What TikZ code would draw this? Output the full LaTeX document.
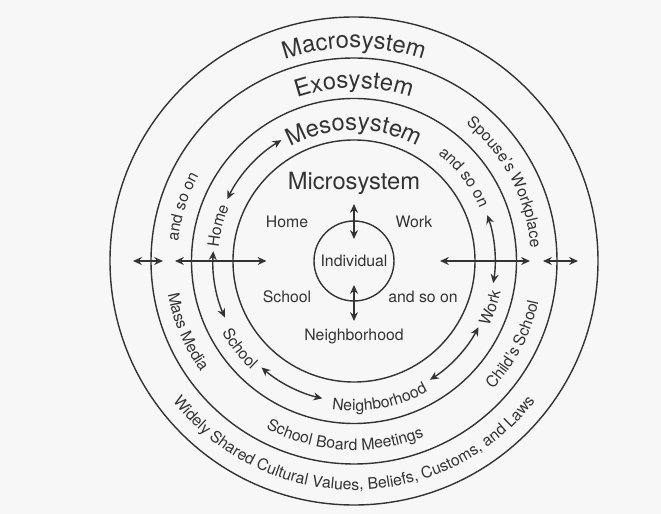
\documentclass[tikz,border=0pt]{standalone}
\usepackage{fontspec}
\setmainfont{TeX Gyre Heros}
\usetikzlibrary{arrows.meta, decorations.text}

\newcommand{\ringfont}{\fontsize{9}{11}\selectfont}
\newcommand{\sysfont}{\fontsize{13.5}{16}\selectfont}

\tikzset{
  link/.style={>={Stealth[length=5pt,width=4.5pt]}, <->},
  inner/.style={font=\ringfont},
  ringtext/.style={decorate, decoration={text along path, text align=center,
    text color=black!80, text={|\ringfont|#1}}},
  systext/.style={decorate, decoration={text along path, text align=center,
    text color=black!80, text={|\sysfont|#1}}}
}

\begin{document}
\begin{tikzpicture}[thick, line cap=round, line join=round, color=black!80]
% Page
\fill[black!3] (-7.08,-5.06) rectangle (6.14,5.22);

% Rings
\node[draw, circle, minimum size=1.6cm, inner sep=0pt, font=\ringfont] (ind) at (0,0) {Individual};
\draw (0,0) circle (2.42);
\draw (0,0) circle (3.25);
\draw (0,0) circle (4.06);
\draw (0,0) circle (4.88);

% Microsystem
\node[font=\sysfont] (micro) at (0,1.55) {Microsystem};
\node[inner] (home) at (-1.34,0.78) {Home};
\node[inner] (work) at (1.2,0.78) {Work};
\node[inner] (school) at (-1.34,-0.72) {School};
\node[inner] (more) at (1.38,-0.72) {and so on};
\node[inner] (nbhd) at (0,-1.5) {Neighborhood};

\coordinate (up1) at (0,1.14);
\coordinate (up2) at (0,0.44);
\coordinate (dn1) at (0,-0.48);
\coordinate (dn2) at (0,-1.2);
\draw[link] (up1) -- (up2);
\draw[link] (dn1) -- (dn2);

% Cross arrows
\coordinate (wa) at (-4.42,0);
\coordinate (wb) at (-3.82,0);
\coordinate (wc) at (-3.58,0);
\coordinate (wd) at (-1.75,0);
\coordinate (ea) at (1.72,0);
\coordinate (eb) at (3.52,0);
\coordinate (ec) at (3.78,0);
\coordinate (ed) at (4.48,0);
\draw[link] (wa) -- (wb);
\draw[link] (wc) -- (wd);
\draw[link] (ea) -- (eb);
\draw[link] (ec) -- (ed);

% Mesosystem
\path[systext={Mesosystem}] (150:2.62) arc (150:30:2.62);
\path[ringtext={Home}] (205.5:2.72) arc (205.5:125.5:2.72);
\path[ringtext={and so on}] (77.2:2.72) arc (77.2:-2.8:2.72);
\path[ringtext={School}] (177.5:3.0) arc (177.5:257.5:3.0);
\path[ringtext={Neighborhood}] (230.5:3.0) arc (230.5:330.5:3.0);
\path[ringtext={Work}] (301:3.0) arc (301:381:3.0);
\draw[link] (121:2.82) arc (121:154:2.82);
\draw[link] (176:2.82) arc (176:203.6:2.82);
\draw[link] (229:2.82) arc (229:257:2.82);
\draw[link] (302.6:2.82) arc (302.6:332:2.82);
\draw[link] (-9:2.82) arc (-9:19:2.82);

% Exosystem
\path[systext={Exosystem}] (140:3.46) arc (140:40:3.46);
\path[ringtext={Spouse's Workplace}] (77.5:3.54) arc (77.5:-22.5:3.54);
\path[ringtext={and so on}] (202.5:3.54) arc (202.5:122.5:3.54);
\path[ringtext={Mass Media}] (153:3.78) arc (153:253:3.78);
\path[ringtext={School Board Meetings}] (207:3.78) arc (207:327:3.78);
\path[ringtext={Child's School}] (282.4:3.78) arc (282.4:382.4:3.78);

% Macrosystem
\path[systext={Macrosystem}] (130:4.26) arc (130:50:4.26);
\path[ringtext={Widely Shared Cultural Values, Beliefs, Customs, and Laws}] (190:4.58) arc (190:350:4.58);

\end{tikzpicture}
\end{document}
